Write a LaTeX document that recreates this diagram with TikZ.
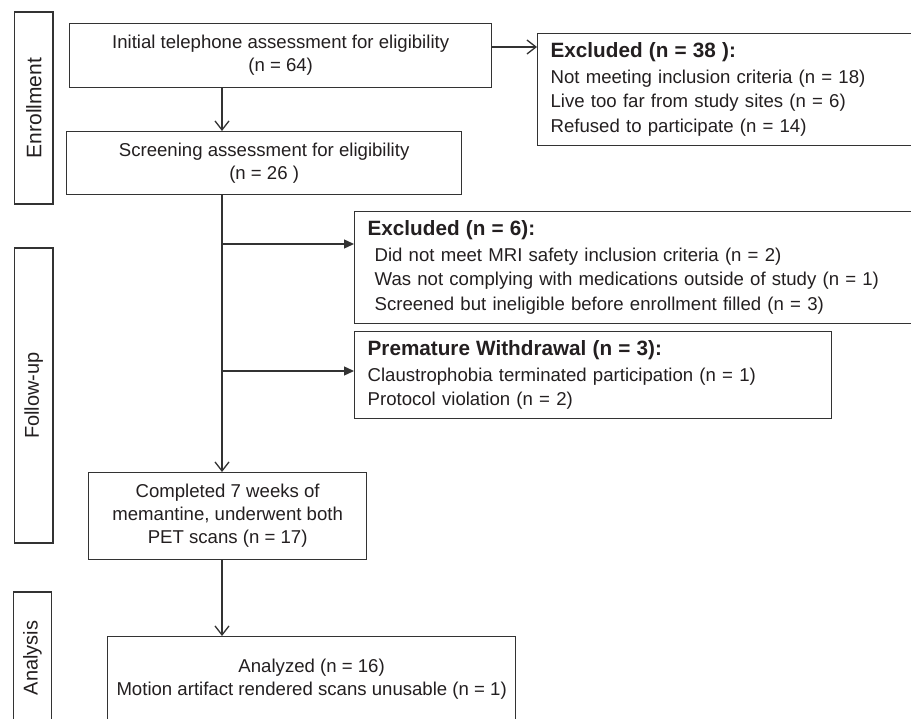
\documentclass[tikz,border=0pt]{standalone}
\usepackage{fontspec}
\setmainfont{Liberation Sans}
\usetikzlibrary{arrows.meta}
\definecolor{ink}{HTML}{231F20}
\definecolor{edge}{HTML}{333333}
\newcommand{\ttl}[1]{{\fontsize{20.7}{24.5}\selectfont\bfseries #1}}
\begin{document}
\begin{tikzpicture}[x=1pt,y=-1pt,
  every node/.style={text=ink},
  cbox/.style={draw=edge, line width=1.3pt, anchor=north west, inner sep=0pt, align=center, font=\fontsize{18.6}{23}\selectfont},
  lbox/.style={draw=edge, line width=1.3pt, anchor=north west, inner ysep=0pt, inner xsep=13pt, align=left, font=\fontsize{18.6}{24.5}\selectfont},
  phase/.style={draw=edge, line width=1.3pt, inner sep=0pt, rotate=90, minimum height=38.5pt},
  openarrow/.style={draw=edge, line width=1.3pt, -{Straight Barb[length=9pt,width=14pt]}},
  filledarrow/.style={draw=edge, line width=1.3pt, -{Triangle[length=10pt,width=9pt]}}
]
\useasboundingbox (0,0) rectangle (911,719);
\clip (0,0) rectangle (911,719);
\fill[white] (0,0) rectangle (911,719);

% phase labels
\node[phase, minimum width=192pt, font=\fontsize{21}{24}\selectfont] (enr) at (33.75,108) {Enrollment};
\node[phase, minimum width=295pt, font=\fontsize{20}{24}\selectfont] (fol) at (33.75,395.5) {Follow-up};
\node[phase, minimum width=132pt, font=\fontsize{20}{24}\selectfont] (ana) at (32.5,658) {Analysis};

% boxes
\node[cbox, minimum width=422pt, minimum height=64pt] (init) at (69,23) {Initial telephone assessment for eligibility\\(n = 64)};
\node[cbox, minimum width=395pt, minimum height=63pt] (screen) at (66,131) {Screening assessment for eligibility\\(n = 26 )};
\node[lbox, text width=374pt, minimum height=112pt] (ex38) at (537,33) {\ttl{Excluded (n = 38 ):}\\[1pt]Not meeting inclusion criteria (n = 18)\\Live too far from study sites (n = 6)\\Refused to participate (n = 14)};
\node[lbox, text width=554pt, minimum height=112pt] (ex6) at (354,211) {\ttl{Excluded (n = 6):}\\[1pt]\hspace*{7pt}Did not meet MRI safety inclusion criteria (n = 2)\\\hspace*{7pt}Was not complying with medications outside of study (n = 1)\\\hspace*{7pt}Screened but ineligible before enrollment filled (n = 3)};
\node[lbox, text width=451pt, minimum height=87pt] (prem) at (354,331) {\ttl{Premature Withdrawal (n = 3):}\\[1pt]Claustrophobia terminated participation (n = 1)\\Protocol violation (n = 2)};
\node[cbox, minimum width=278pt, minimum height=87pt] (comp) at (88,472) {Completed 7 weeks of\\memantine, underwent both\\PET scans (n = 17)};
\node[cbox, minimum width=408pt, minimum height=86pt] (anal) at (107,636) {Analyzed (n = 16)\\Motion artifact rendered scans unusable (n = 1)};

% connectors
\coordinate (trunk) at (222,0);
\coordinate (r1) at (0,47);
\coordinate (b1) at (222,244);
\coordinate (b2) at (222,371);
\draw[openarrow] (init.south -| trunk) -- (screen.north -| trunk);
\draw[openarrow] (init.east |- r1) -- (ex38.west |- r1);
\draw[openarrow] (screen.south -| trunk) -- (comp.north -| trunk);
\draw[filledarrow] (b1) -- (ex6.west |- b1);
\draw[filledarrow] (b2) -- (prem.west |- b2);
\draw[openarrow] (comp.south -| trunk) -- (anal.north -| trunk);
\end{tikzpicture}
\end{document}
